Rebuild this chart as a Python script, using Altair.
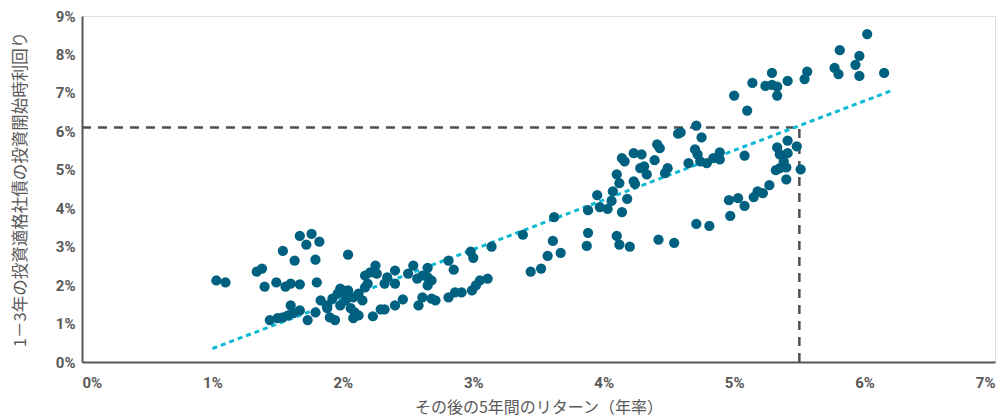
import altair as alt
import pandas as pd

# Scatter points: subsequent 5-year return (%, annualized) vs starting yield (%)
x_vals = [
    1.03, 1.10, 1.34, 1.38, 1.40, 1.49, 1.54, 1.63, 1.67, 1.72, 1.76, 1.82, 1.79, 1.56, 1.60, 1.67, 1.80, 2.04,
    1.44, 1.50, 1.54, 1.58, 1.60, 1.62, 1.67, 1.73, 1.79, 1.88, 1.90, 1.94,
    1.88, 1.92, 1.96, 2.00, 2.04, 2.08, 2.12, 2.15, 2.17, 2.19, 2.17, 2.21, 2.25, 2.26, 1.98, 2.02, 2.06, 2.09, 1.83, 2.02, 1.98,
    2.08, 2.12, 2.23, 2.29, 2.32, 2.40, 2.46, 2.58, 2.61, 2.68, 2.71, 2.81, 2.86, 2.91, 2.99, 3.02, 3.05, 3.11,
    2.34, 2.32, 2.40, 2.40, 2.50, 2.54, 2.57, 2.61, 2.65, 2.65, 2.68, 2.65, 2.81, 2.85, 2.98, 3.00, 3.14, 3.38,
    3.61, 3.57, 3.67, 3.44, 3.52, 3.88, 3.87, 4.10, 4.12, 4.20, 4.42, 4.54,
    3.62, 3.88, 3.95, 3.97, 4.03, 4.06, 4.07, 4.10, 4.12, 4.14, 4.18, 4.23, 4.24,
    4.14, 4.16, 4.23, 4.29, 4.28, 4.31, 4.33, 4.39, 4.41, 4.43, 4.47, 4.49, 4.57,
    6.02, 5.81, 5.96, 5.93, 5.77, 5.80, 5.96, 6.15, 5.56, 5.54, 5.41, 5.29, 5.24, 5.29, 5.33, 5.33, 5.14, 5.00, 5.10,
    4.59, 4.71, 4.75, 4.70, 4.72, 4.65, 4.74, 4.79, 4.84, 4.89, 4.89, 5.08,
    5.33, 5.41, 5.48, 5.41, 5.35, 5.38, 5.35, 5.40, 5.32, 5.51, 5.40,
    5.27, 5.18, 5.22, 5.15, 5.08, 5.03, 4.96, 4.97, 4.71, 4.81,
]
y_vals = [
    2.12, 2.07, 2.35, 2.43, 1.96, 2.07, 2.89, 2.64, 3.28, 3.05, 3.33, 3.13, 2.66, 1.96, 2.04, 2.02, 2.07, 2.79,
    1.09, 1.14, 1.16, 1.21, 1.47, 1.27, 1.34, 1.09, 1.29, 1.40, 1.16, 1.09,
    1.47, 1.65, 1.78, 1.86, 1.86, 1.68, 1.78, 1.60, 1.94, 2.04, 2.25, 2.33, 2.51, 2.30, 1.47, 1.60, 1.40, 1.29, 1.60, 1.78, 1.91,
    1.14, 1.21, 1.19, 1.37, 1.37, 1.47, 1.63, 1.47, 1.68, 1.65, 1.60, 1.68, 1.81, 1.81, 1.86, 1.99, 2.12, 2.17,
    2.20, 2.04, 2.38, 2.04, 2.30, 2.51, 2.17, 2.25, 2.45, 2.20, 2.12, 1.99, 2.64, 2.40, 2.87, 2.71, 3.00, 3.31,
    3.15, 2.76, 2.84, 2.35, 2.43, 3.36, 3.02, 3.28, 3.05, 3.00, 3.18, 3.10,
    3.77, 3.95, 4.34, 4.03, 3.98, 4.19, 4.44, 4.88, 4.65, 3.90, 4.24, 4.70, 4.63,
    5.30, 5.22, 5.43, 5.40, 5.04, 5.09, 4.88, 5.25, 5.66, 5.56, 4.91, 5.04, 5.94,
    8.53, 8.11, 7.96, 7.73, 7.65, 7.49, 7.44, 7.52, 7.55, 7.36, 7.31, 7.52, 7.18, 7.21, 7.16, 6.93, 7.26, 6.93, 6.54,
    5.97, 6.15, 5.84, 5.53, 5.40, 5.17, 5.22, 5.17, 5.30, 5.45, 5.27, 5.37,
    5.58, 5.76, 5.61, 5.43, 5.40, 5.22, 5.04, 5.06, 4.99, 5.01, 4.75,
    4.60, 4.44, 4.39, 4.29, 4.06, 4.26, 4.21, 3.80, 3.59, 3.54,
]

# Trend line end points
trend_x = [1.0, 6.2]
trend_y = [0.35, 7.05]

# Reference (dashed) lines
ref_x = 5.5
ref_y = 6.1

x_ticks = [0, 1, 2, 3, 4, 5, 6, 7]
y_ticks = [0, 1, 2, 3, 4, 5, 6, 7, 8, 9]

x_title = "その後の5年間のリターン（年率）"
y_title = "1－3年の投資適格社債の投資開始時利回り"

W, H = 913, 346

pts = pd.DataFrame({"x": x_vals, "y": y_vals})
trend = pd.DataFrame({"x": trend_x, "y": trend_y})
hline = pd.DataFrame({"x": [0], "x2": [ref_x], "y": [ref_y]})
vline = pd.DataFrame({"x": [ref_x], "y": [0], "y2": [ref_y]})

label_font = "Roboto"
title_font = "Noto Sans CJK JP"

xscale = alt.Scale(domain=[0, 7], nice=False, zero=False)
yscale = alt.Scale(domain=[0, 9], nice=False, zero=False)

x_axis = alt.Axis(
    values=x_ticks, labelExpr="datum.value + '%'", title=x_title,
    grid=False, ticks=False, domain=True, domainColor="#555555", domainWidth=2,
    labelFont=label_font, labelFontSize=15, labelFontWeight="bold", labelColor="#595959",
    labelPadding=13, labelOverlap=False,
    titleFont=title_font, titleFontSize=16, titleFontWeight="normal", titleColor="#595959",
    titleX=W / 2, titleY=45, titleBaseline="middle", titleAlign="center",
)
y_axis = alt.Axis(
    values=y_ticks, labelExpr="datum.value + '%'", title=y_title,
    grid=False, ticks=False, domain=True, domainColor="#555555", domainWidth=2,
    labelFont=label_font, labelFontSize=15, labelFontWeight="bold", labelColor="#595959",
    labelPadding=7, labelOverlap=False,
    titleFont=title_font, titleFontSize=16.5, titleFontWeight="normal", titleColor="#595959",
    titleX=-62, titleY=H / 2, titleBaseline="middle", titleAlign="center", titleAngle=-90,
)

X = alt.X("x:Q", scale=xscale, axis=x_axis)
Y = alt.Y("y:Q", scale=yscale, axis=y_axis)

points = alt.Chart(pts).mark_circle(size=105, opacity=1, color="#00607F").encode(x=X, y=Y)

trend_line = alt.Chart(trend).mark_line(
    color="#0BB8D4", strokeWidth=3, strokeDash=[5, 4]
).encode(x=X, y=Y)

h_rule = alt.Chart(hline).mark_rule(
    color="#4D4F55", strokeWidth=2.5, strokeDash=[9, 7]
).encode(x=X, x2="x2:Q", y=Y)

v_rule = alt.Chart(vline).mark_rule(
    color="#4D4F55", strokeWidth=2.5, strokeDash=[9, 7]
).encode(x=X, y=Y, y2="y2:Q")

chart = alt.layer(h_rule, v_rule, trend_line, points).properties(
    width=W, height=H,
    autosize=alt.AutoSizeParams(type="none"),
    padding={"left": 74, "top": 8, "right": 5, "bottom": 56},
).configure_view(stroke="#666666", strokeWidth=1.5).configure(background="white")

chart.save("out.html", embed_options={"renderer": "svg", "actions": False})
